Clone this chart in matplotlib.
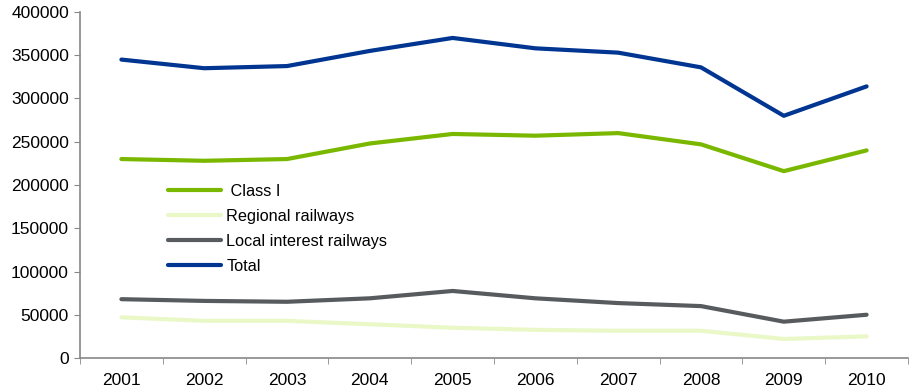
import matplotlib
matplotlib.use("Agg")
import matplotlib.pyplot as plt
import numpy as np

plt.rcParams['font.family'] = ['Liberation Sans', 'DejaVu Sans']

years = ["2001", "2002", "2003", "2004", "2005", "2006", "2007", "2008", "2009", "2010"]
class_i = [230000, 228000, 230000, 248000, 259000, 257000, 260000, 247000, 216000, 240000]
regional = [47000, 43000, 43000, 39000, 35000, 32500, 31500, 31500, 22000, 25000]
local = [68000, 66000, 65000, 69000, 77500, 69000, 63500, 60000, 42000, 50000]
total = [345000, 335000, 337500, 355000, 370000, 358000, 353000, 336000, 280000, 314000]

fig = plt.figure(figsize=(9.14, 3.92), dpi=100)
ax = fig.add_axes([80/914, 1-358/392, 828/914, 346/392])
x = np.arange(len(years))
lw = 3
ax.plot(x, class_i, color='#7ab800', lw=lw, label=' Class I', solid_capstyle='round')
ax.plot(x, regional, color='#eaf8c8', lw=lw, label='Regional railways', solid_capstyle='round')
ax.plot(x, local, color='#585b5e', lw=lw, label='Local interest railways', solid_capstyle='round')
ax.plot(x, total, color='#003591', lw=lw, label='Total', solid_capstyle='round')

ax.set_xlim(-0.5, len(years) - 0.5)
ax.set_ylim(0, 400000)
ax.set_yticks(np.arange(0, 400001, 50000))
ax.set_yticklabels([str(v) for v in range(0, 400001, 50000)])
ax.set_xticks(x)
ax.set_xticklabels(years)
ax.set_xticks(np.arange(-0.5, len(years), 1.0), minor=True)
ax.tick_params(axis='x', which='major', length=0, pad=11, labelsize=12.5)
ax.tick_params(axis='x', which='minor', length=4, color='#888888', direction='out')
ax.tick_params(axis='y', length=4, color='#888888', labelsize=12.5, pad=4)
for s in ['top', 'right']:
    ax.spines[s].set_visible(False)
for s in ['left', 'bottom']:
    ax.spines[s].set_color('#888888')
    ax.spines[s].set_linewidth(1.2)

leg = ax.legend(loc='upper left', bbox_to_anchor=(0.098, 0.522), frameon=False,
                fontsize=11.7, handlelength=3.3, handletextpad=0.3, labelspacing=0.62,
                borderaxespad=0)

fig.savefig('out.png', dpi=100)
